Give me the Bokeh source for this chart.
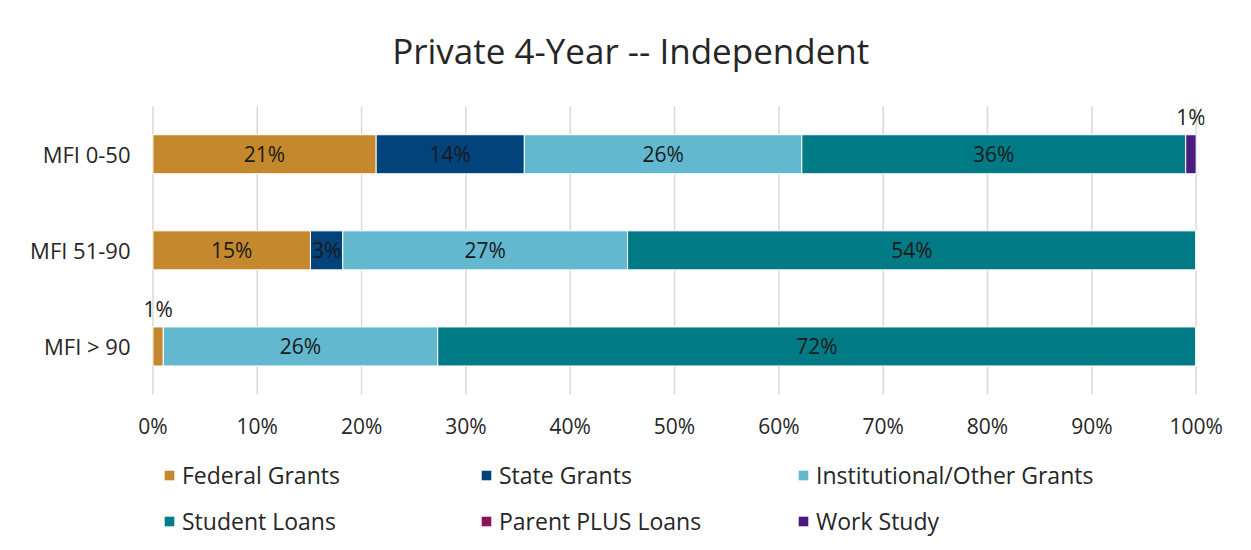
import math
from bokeh.plotting import figure
from bokeh.layouts import column
from bokeh.models import (ColumnDataSource, Range1d, Legend, LegendItem,
                          LabelSet, Label, PrintfTickFormatter, FixedTicker)
from bokeh.core.properties import value
from bokeh.embed import file_html
from bokeh.resources import INLINE

# ---------------- data ----------------
categories = ["MFI 0-50", "MFI 51-90", "MFI > 90"]
series_names = ["Federal Grants", "State Grants", "Institutional/Other Grants",
                "Student Loans", "Parent PLUS Loans", "Work Study"]
federal_grants = [21.4, 15.1, 1.0]
state_grants = [14.2, 3.1, 0.0]
institutional_grants = [26.6, 27.3, 26.3]
student_loans = [36.8, 54.5, 72.7]
parent_plus_loans = [0.0, 0.0, 0.0]
work_study = [1.0, 0.0, 0.0]
colors = ["#C5882D", "#01437A", "#62B8CE", "#007A84", "#8E1259", "#4B1A7F"]
x_ticks = [0, 10, 20, 30, 40, 50, 60, 70, 80, 90, 100]
title_text = "Private 4-Year -- Independent"

FONT = "Open Sans"
TXT = "#262626"

series_values = [federal_grants, state_grants, institutional_grants,
                 student_loans, parent_plus_loans, work_study]
keys = ["s%d" % i for i in range(len(series_names))]
n = len(categories)
ypos = [n - 1 - i for i in range(n)]          # first category on top

data = {"y": ypos}
for k, v in zip(keys, series_values):
    data[k] = v
source = ColumnDataSource(data)

# ---------------- main chart ----------------
p = figure(width=1251, height=447, output_backend="svg", toolbar_location=None,
           x_range=Range1d(-1.0, 100.8), y_range=Range1d(-0.5, n - 0.5 + 1.1),
           min_border_left=142, min_border_right=47,
           min_border_top=0, min_border_bottom=53)
p.outline_line_color = None
p.background_fill_color = "white"
p.border_fill_color = "white"
p.xgrid.grid_line_color = None
p.ygrid.grid_line_color = None

# vertical grid lines spanning the category band only
p.segment(x0=x_ticks, x1=x_ticks, y0=-0.5, y1=n - 0.5,
          line_color="#D9D9D9", line_width=1.5)

renderers = p.hbar_stack(keys, y="y", height=0.406, color=colors, source=source,
                         line_color="white", line_width=1)

p.xaxis.ticker = FixedTicker(ticks=x_ticks)
p.xaxis.formatter = PrintfTickFormatter(format="%d%%")
p.xaxis.axis_line_color = None
p.xaxis.major_tick_line_color = None
p.xaxis.minor_tick_line_color = None
p.xaxis.major_tick_out = 0
p.xaxis.major_tick_in = 0
p.xaxis.major_label_standoff = 17
p.xaxis.major_label_text_font = FONT
p.xaxis.major_label_text_font_size = "21px"
p.xaxis.major_label_text_color = TXT

p.yaxis.ticker = FixedTicker(ticks=ypos)
p.yaxis.major_label_overrides = {y: c for y, c in zip(ypos, categories)}
p.yaxis.axis_line_color = None
p.yaxis.major_tick_line_color = None
p.yaxis.minor_tick_line_color = None
p.yaxis.major_tick_out = 0
p.yaxis.major_tick_in = 0
p.yaxis.major_label_standoff = 12
p.yaxis.major_label_text_font = FONT
p.yaxis.major_label_text_font_size = "22px"
p.yaxis.major_label_text_color = TXT

# data labels
in_x, in_y, in_t = [], [], []
up_x, up_y, up_t = [], [], []
for ci, y in enumerate(ypos):
    start = 0.0
    for vals in series_values:
        v = vals[ci]
        if v > 0:
            txt = "%d%%" % math.floor(v + 1e-9)
            mid = start + v / 2.0
            if v < 2:
                up_x.append(mid); up_y.append(y); up_t.append(txt)
            else:
                in_x.append(mid); in_y.append(y); in_t.append(txt)
        start += v

lab_in = LabelSet(x="x", y="y", text="t",
                  source=ColumnDataSource(dict(x=in_x, y=in_y, t=in_t)),
                  text_align="center", text_baseline="middle",
                  text_font=value(FONT), text_font_size="21px", text_color="#1A1A1A")
lab_up = LabelSet(x="x", y="y", text="t", y_offset=37,
                  source=ColumnDataSource(dict(x=up_x, y=up_y, t=up_t)),
                  text_align="center", text_baseline="middle",
                  text_font=value(FONT), text_font_size="21px", text_color="#1A1A1A")
p.add_layout(lab_in)
p.add_layout(lab_up)

title = Label(x=45.8, y=n - 0.5 + 0.58, text=title_text,
              text_align="center", text_baseline="middle",
              text_font=FONT, text_font_size="35px", text_color=TXT)
p.add_layout(title)

# ---------------- legend strip ----------------
lg = figure(width=1251, height=103, output_backend="svg", toolbar_location=None,
            x_range=Range1d(0, 1), y_range=Range1d(0, 1),
            min_border_left=0, min_border_right=0, min_border_top=0, min_border_bottom=0)
lg.axis.visible = False
lg.grid.grid_line_color = None
lg.outline_line_color = None
lg.background_fill_color = "white"
lg.border_fill_color = "white"

items = []
for s, c in zip(series_names, colors):
    # zero-width swatch renderers: only their legend glyph is visible
    r = lg.hbar(y=[0.5], left=[0], right=[0], height=0.5,
                fill_color=c, line_color=None)
    items.append(LegendItem(label=s, renderers=[r]))

legend = Legend(items=items, orientation="horizontal", ncols=3,
                glyph_width=12, glyph_height=12, label_standoff=7,
                label_width=284, label_height=30, spacing=14,
                label_text_font=FONT, label_text_font_size="23px",
                label_text_color=TXT, border_line_color=None,
                background_fill_alpha=0, margin=0, padding=0,
                location=(21, 13))
lg.add_layout(legend, "center")

layout = column(p, lg, spacing=0)
open("out.html", "w").write(file_html(layout, INLINE))
